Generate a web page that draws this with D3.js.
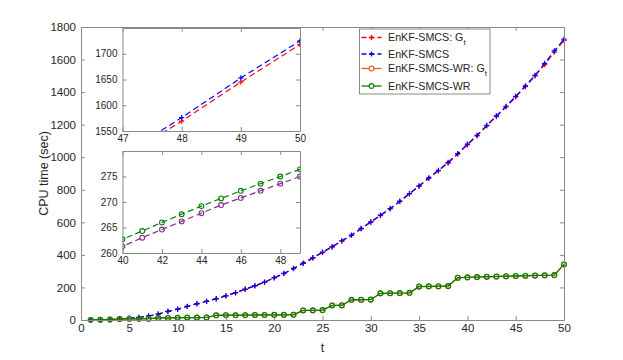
<!DOCTYPE html>
<html>
<head>
<meta charset="utf-8">
<script src="https://cdn.jsdelivr.net/npm/d3@7"></script>
<style>
body { margin: 0; background: #fff; }
svg { font-family: "Liberation Sans", Arial, sans-serif; }
.axis path, .axis line { stroke: #8a8a8a; }
.axis text { fill: #262626; }
</style>
</head>
<body>
<div id="chart"></div>
<script>
// time steps
var t = d3.range(1, 51);

// CPU time values (sec)
var smcs_gt = [0.4,1,2,5.5,11.5,15.5,24.5,36.5,52.5,66, 83,99,114,130,148,166.5,188,209,231,258,
	284,315,347,380,414,448,484,519,560,600, 641,682,727,774,821,870,916,964,1019,1076,
	1131,1192,1250,1309,1370,1434,1499,1569,1645,1718];
var smcs = [0.5,1,2,6,12,16,25,37,53,67, 84,100,115,131,149,168,190,211,233,260,
	286,317,350,383,417,451,487,522,563,603, 644,685,730,777,824,873,920,968,1023,1080,
	1135,1196,1254,1313,1374,1438,1503,1576,1653,1725];
var wr_gt = [0.8,1.8,2.8,5.7,6.7,6.7,7.7,12.6,12.6,13.5, 14.5,14.5,15.4,28.4,29.4,29.3,29.3,30.2,30.2,31.1,
	31.1,32,58,59,59.9,88.8,89.8,122.7,123.6,124.6, 162.5,163.4,164.4,165.3,204.4,205.3,206.2,207.1,258.6,261.3,
	263,264.6,266.2,267.8,269.4,270.8,272.2,273.6,275,340.5];
var wr = [1,2,3,6,7,7,8,13,13,14, 15,15,16,29,30,30,30,31,31,32,
	32,33,59,60,61,90,91,124,125,126, 164,165,166,167,206,207,208,209,260,262.7,
	264.3,266,267.6,269.2,270.7,272.2,273.6,275,276.4,342];

// tick labels
var x_ticks = [0, 5, 10, 15, 20, 25, 30, 35, 40, 45, 50];
var y_ticks = [0, 200, 400, 600, 800, 1000, 1200, 1400, 1600, 1800];
var in1_x_ticks = [47, 48, 49, 50];
var in1_y_ticks = [1550, 1600, 1650, 1700];
var in2_x_ticks = [40, 42, 44, 46, 48];
var in2_y_ticks = [260, 265, 270, 275];

var names = ["EnKF-SMCS: G", "EnKF-SMCS", "EnKF-SMCS-WR: G", "EnKF-SMCS-WR"];
var subs = ["t", "", "t", ""];
var colors = ["#ff0000", "#0000ff", "#e0601f", "#008000"];
var markers = ["plus", "plus", "circle", "circle"];
var dashed = [true, true, false, false];
var series = [smcs_gt, smcs, wr_gt, wr];

var width = 623, height = 360;

var svg = d3.select("#chart").append("svg")
	.attr("width", width)
	.attr("height", height);

// turn arrays into point lists
function points(vals){
	var arr = [];
	for (var i = 0; i < t.length; i++){
		arr.push({"t": t[i], "v": vals[i]});
	}
	return arr;
}

function draw_series(g, data, xScale, yScale, color, marker, dash, clipId){
	var line = d3.line()
		.x(function(d){ return xScale(d.t); })
		.y(function(d){ return yScale(d.v); });

	var holder = g.append("g");
	if (clipId) holder.attr("clip-path", "url(#" + clipId + ")");

	holder.append("path")
		.datum(data)
		.attr("d", line)
		.attr("fill", "none")
		.attr("stroke", color)
		.attr("stroke-width", 1.2)
		.attr("stroke-dasharray", dash ? "6,3.5" : null);

	if (marker == "plus"){
		holder.selectAll(null).data(data).enter().append("path")
			.attr("d", function(d){
				var x = xScale(d.t), y = yScale(d.v), s = 2.6;
				return "M" + (x - s) + "," + y + "H" + (x + s) + "M" + x + "," + (y - s) + "V" + (y + s);
			})
			.attr("stroke", color)
			.attr("stroke-width", 1.2);
	} else {
		holder.selectAll(null).data(data).enter().append("circle")
			.attr("cx", function(d){ return xScale(d.t); })
			.attr("cy", function(d){ return yScale(d.v); })
			.attr("r", 2.4)
			.attr("fill", "none")
			.attr("stroke", color)
			.attr("stroke-width", 1.1);
	}
}

// box axes with inward ticks on all four sides
function draw_box(g, xScale, yScale, xt, yt, w, h, fs){
	var fmt = d3.format("d");
	g.append("g").attr("class", "axis")
		.attr("transform", "translate(0," + h + ")")
		.call(d3.axisBottom(xScale).tickValues(xt).tickFormat(fmt).tickSize(-4).tickSizeOuter(0).tickPadding(4))
		.style("font-size", fs + "px");
	g.append("g").attr("class", "axis")
		.call(d3.axisTop(xScale).tickValues(xt).tickSize(-4).tickSizeOuter(0).tickFormat(""));
	g.append("g").attr("class", "axis")
		.call(d3.axisLeft(yScale).tickValues(yt).tickFormat(fmt).tickSize(-4).tickSizeOuter(0).tickPadding(5))
		.style("font-size", fs + "px");
	g.append("g").attr("class", "axis")
		.attr("transform", "translate(" + w + ",0)")
		.call(d3.axisRight(yScale).tickValues(yt).tickSize(-4).tickSizeOuter(0).tickFormat(""));
	g.selectAll(".axis").attr("font-family", null);
}

//main panel
var margin = { top: 27, left: 81 };
var chartW = 564 - 81;
var chartH = 320 - 27;
var panel = svg.append("g")
	.attr("transform", "translate(" + margin.left + "," + margin.top + ")");

var xScale = d3.scaleLinear().domain([0, 50]).range([0, chartW]);
var yScale = d3.scaleLinear().domain([0, 1800]).range([chartH, 0]);

for (var i = 0; i < 4; i++){
	draw_series(panel, points(series[i]), xScale, yScale, colors[i], markers[i], dashed[i], null);
}
draw_box(panel, xScale, yScale, x_ticks, y_ticks, chartW, chartH, 11.5);

// axis labels
svg.append("text")
	.attr("x", margin.left + chartW / 2)
	.attr("y", 352)
	.attr("text-anchor", "middle")
	.style("font-size", "12.5px")
	.style("fill", "#262626")
	.text("t");

svg.append("text")
	.attr("transform", "rotate(-90)")
	.attr("x", -(margin.top + chartH / 2))
	.attr("y", 48)
	.attr("text-anchor", "middle")
	.style("font-size", "12.5px")
	.style("fill", "#262626")
	.text("CPU time (sec)");

// insets
var defs = svg.append("defs");

function inset(left, top, w, h, xd, yd, xt, yt, list, id){
	var g = svg.append("g").attr("transform", "translate(" + left + "," + top + ")");
	g.append("rect").attr("width", w).attr("height", h).attr("fill", "#fff");
	defs.append("clipPath").attr("id", id)
		.append("rect").attr("width", w).attr("height", h);
	var xs = d3.scaleLinear().domain(xd).range([0, w]);
	var ys = d3.scaleLinear().domain(yd).range([h, 0]);
	list.forEach(function(s){
		var data = points(s.vals).filter(function(d){ return d.t >= xd[0] - 1 && d.t <= xd[1] + 1; });
		if (s.cut) data = data.filter(function(d){ return d.t <= xd[1]; });
		draw_series(g, data, xs, ys, s.color, s.marker, true, id);
	});
	draw_box(g, xs, ys, xt, yt, w, h, 10);
}

inset(122.5, 28, 177.5, 103, [47, 50], [1550, 1750], in1_x_ticks, in1_y_ticks, [
	{vals: smcs_gt, color: "#ff0000", marker: "plus"},
	{vals: smcs, color: "#0000ff", marker: "plus"}
], "clip1");

inset(122.5, 151, 177.5, 102, [40, 49], [260, 280], in2_x_ticks, in2_y_ticks, [
	{vals: wr_gt, color: "#7e2f8e", marker: "circle", cut: true},
	{vals: wr, color: "#008000", marker: "circle", cut: true}
], "clip2");

// legend
var leg = svg.append("g").attr("transform", "translate(359.5,29)");
leg.append("rect")
	.attr("width", 130.5)
	.attr("height", 65)
	.attr("fill", "#fff")
	.attr("stroke", "#8a8a8a")
	.attr("stroke-width", 1);

var rowY = [8.5, 25, 39.5, 57];
for (var i = 0; i < 4; i++){
	var y = rowY[i];
	leg.append("line")
		.attr("x1", 2).attr("x2", 22)
		.attr("y1", y).attr("y2", y)
		.attr("stroke", colors[i])
		.attr("stroke-width", 1.3)
		.attr("stroke-dasharray", dashed[i] ? "5,3" : null);
	if (markers[i] == "plus"){
		leg.append("path")
			.attr("d", "M" + 9.4 + "," + y + "H" + 14.6 + "M" + 12 + "," + (y - 2.6) + "V" + (y + 2.6))
			.attr("stroke", colors[i])
			.attr("stroke-width", 1.3);
	} else {
		leg.append("circle")
			.attr("cx", 12).attr("cy", y).attr("r", 2.4)
			.attr("fill", "#fff")
			.attr("stroke", colors[i])
			.attr("stroke-width", 1.1);
	}
	var txt = leg.append("text")
		.attr("x", 28.5)
		.attr("y", y + 3.8)
		.style("font-size", "10.7px")
		.style("fill", "#262626")
		.text(names[i]);
	if (subs[i]){
		txt.append("tspan")
			.attr("dy", 3.5)
			.style("font-size", "8px")
			.text(subs[i]);
	}
}
</script>
</body>
</html>
